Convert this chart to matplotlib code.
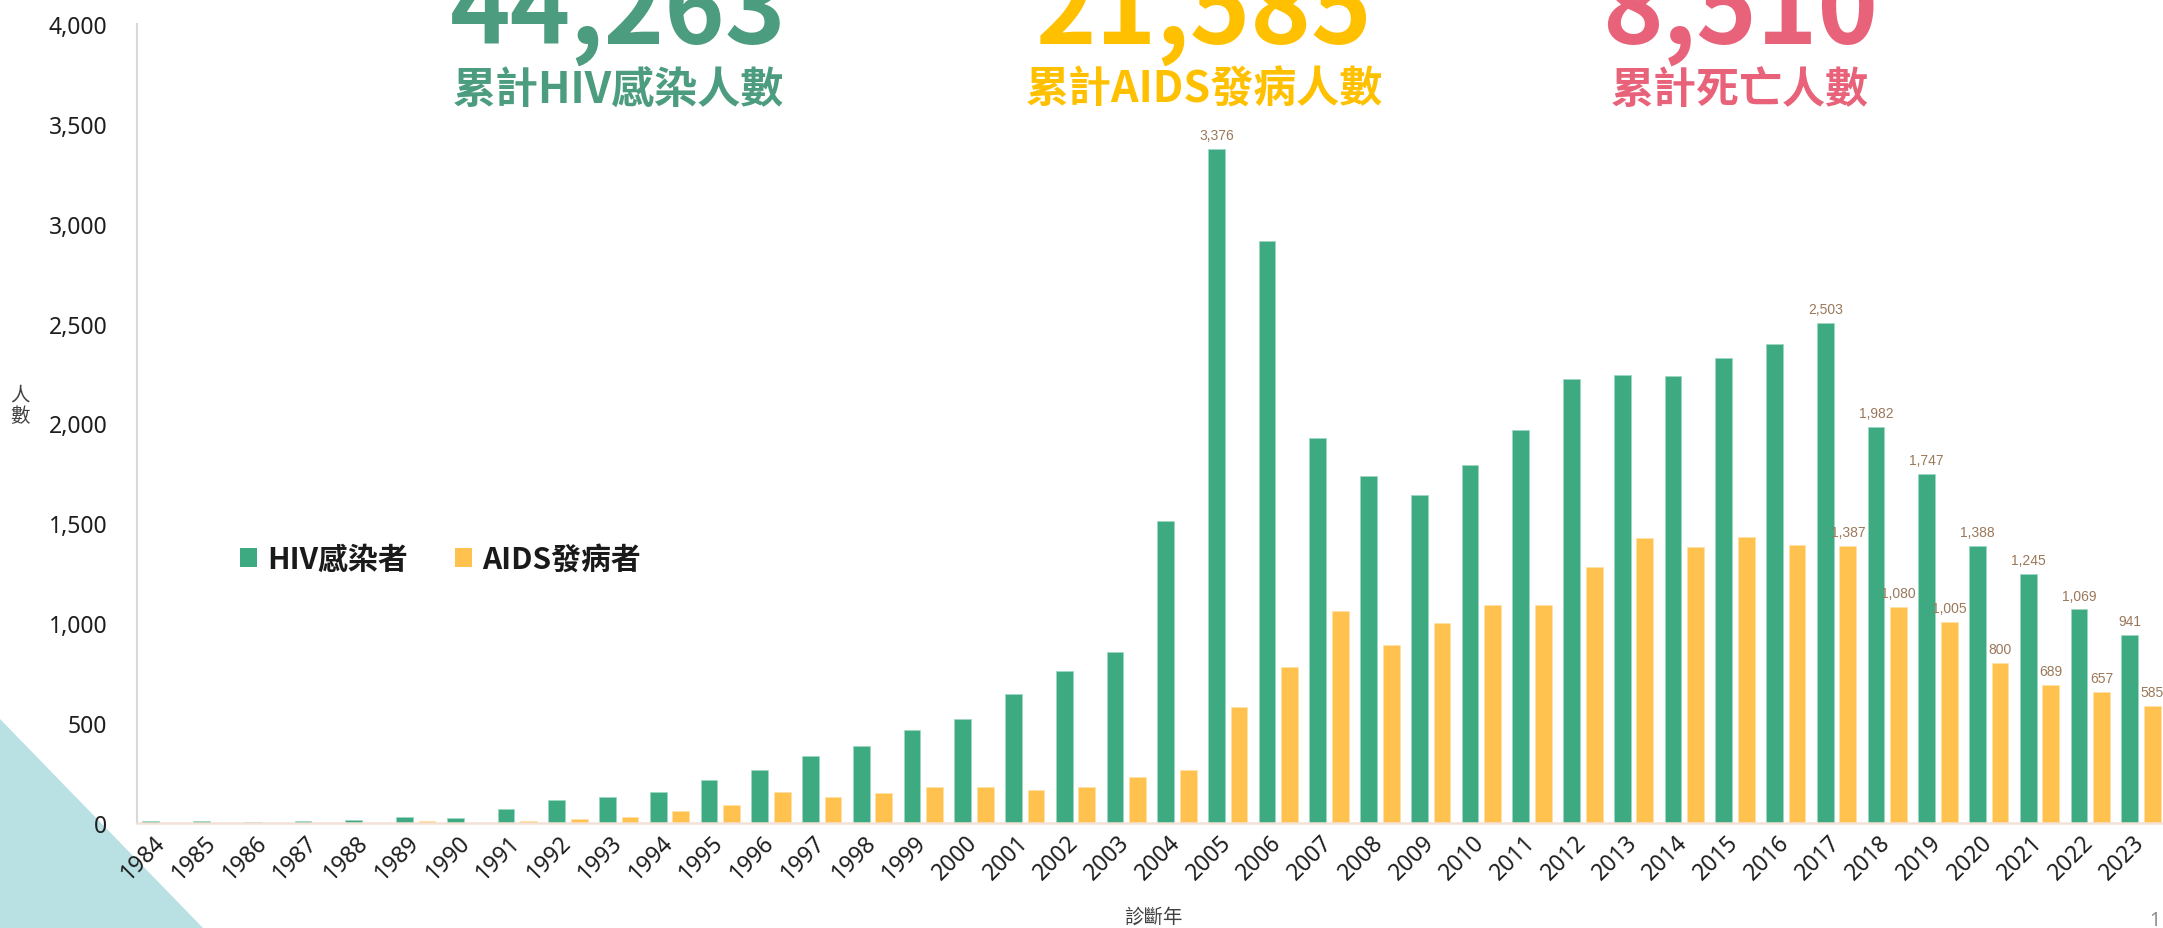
import matplotlib
matplotlib.use("Agg")
import matplotlib.pyplot as plt
import numpy as np
from matplotlib.patches import Polygon
from matplotlib.ticker import FuncFormatter, MultipleLocator

plt.rcParams['font.family'] = ['Noto Sans', 'Noto Sans CJK TC', 'DejaVu Sans']

years = [str(y) for y in range(1984, 2024)]
hiv = [8, 12, 5, 8, 17, 32, 25, 72, 114, 128, 153,
       217, 263, 335, 383, 467, 522, 648, 762, 855, 1512,
       3376, 2914, 1927, 1735, 1640, 1794, 1967, 2224, 2244, 2236,
       2327, 2396, 2503, 1982, 1747, 1388, 1245, 1069, 941]
aids = [0, 0, 0, 0, 0, 8, 0, 8, 20, 32, 60,
        92, 153, 132, 150, 178, 178, 163, 178, 232, 267,
        583, 783, 1063, 890, 1000, 1092, 1089, 1282, 1425, 1380,
        1432, 1393, 1387, 1080, 1005, 800, 689, 657, 585]
hiv_labeled = ['2005', '2017', '2018', '2019', '2020', '2021', '2022', '2023']
aids_labeled = ['2017', '2018', '2019', '2020', '2021', '2022', '2023']

series_names = ['HIV感染者', 'AIDS發病者']
totals = ['44,263', '21,585', '8,510']
total_titles = ['累計HIV感染人數', '累計AIDS發病人數', '累計死亡人數']
total_colors = ['#4c9c7f', '#ffc000', '#e8627a']

W, H = 2163, 929
fig = plt.figure(figsize=(W / 100, H / 100), dpi=100)
fig.patch.set_facecolor('white')

# decorative triangle bottom-left (behind everything)
tri = Polygon([(0, 1 - 720 / H), (203 / W, 0), (0, 0)], closed=True,
              transform=fig.transFigure, facecolor='#b9e0e3', edgecolor='none', zorder=-5)
fig.patches.append(tri)

ax = fig.add_axes([136.6 / W, 1 - 824 / H, 1 - 136.6 / W, (824 - 25) / H])
ax.set_facecolor('none')
ax.set_zorder(1)

x = np.arange(len(years))
w = 0.33
green = '#3daa82'
yellow = '#ffc24f'
b1 = ax.bar(x - 0.22, hiv, width=w, color=green, edgecolor='#9fd8c2', linewidth=0.6,
            label=series_names[0], zorder=2)
b2 = ax.bar(x + 0.225, aids, width=w, color=yellow, edgecolor='#ffe2a8', linewidth=0.6,
            label=series_names[1], zorder=2)

lab_color = '#9a785a'
for i, yr in enumerate(years):
    if yr in hiv_labeled:
        ax.annotate(f'{hiv[i]:,}', (x[i] - 0.22, hiv[i]), xytext=(0, 5), textcoords='offset points',
                    ha='center', va='bottom', fontsize=10, color=lab_color, family='Liberation Sans')
    if yr in aids_labeled:
        ax.annotate(f'{aids[i]:,}', (x[i] + 0.225, aids[i]), xytext=(0, 5), textcoords='offset points',
                    ha='center', va='bottom', fontsize=10, color=lab_color, family='Liberation Sans')

ax.set_xlim(-0.5, (W - 162) / 50.74)
ax.set_ylim(0, 4000)
ax.yaxis.set_major_locator(MultipleLocator(500))
ax.yaxis.set_major_formatter(FuncFormatter(lambda v, p: f'{int(v):,}'))
ax.set_xticks(x)
ax.set_xticklabels(years, rotation=45, ha='right', va='center', rotation_mode='anchor',
                   family='Noto Sans', fontsize=16.5, color='#1e1e1e')
ax.tick_params(axis='x', length=0, pad=11)
ax.tick_params(axis='y', length=0, pad=21, labelsize=16.5, labelcolor='#1e1e1e')

for s in ['top', 'right']:
    ax.spines[s].set_visible(False)
ax.spines['left'].set_color('#d9d9d9')
ax.spines['left'].set_linewidth(1.5)
ax.spines['bottom'].set_color('#f3e1d7')
ax.spines['bottom'].set_linewidth(1.8)

# legend
fs_leg = 21.5
leg = ax.legend(handles=[b1, b2], loc='center left', bbox_to_anchor=(240 / W, 1 - 560 / H),
                bbox_transform=fig.transFigure, ncol=2, frameon=False,
                prop={'family': ['Noto Sans CJK TC'], 'weight': 'bold', 'size': fs_leg},
                handlelength=0.57, handleheight=0.57, handletextpad=0.35, columnspacing=1.55,
                borderpad=0, borderaxespad=0)
for h in leg.legend_handles:
    h.set_edgecolor('none')
for t in leg.get_texts():
    t.set_color('#1a1a1a')

# axis titles
fig.text(1153 / W, 1 - 917 / H, '診斷年', ha='center', va='center', fontsize=14, color='#404040',
         family=['Noto Sans CJK TC'])
fig.text(20 / W, 1 - 406 / H, '人\n數', ha='center', va='center', fontsize=14, color='#404040',
         family=['Noto Sans CJK TC'], linespacing=1.05)
fig.text(2155 / W, 1 - 921 / H, '1', ha='center', va='center', fontsize=14, color='#8a8a8a')

# headline totals
centers = [618, 1204, 1740]
for cx, num, ttl, col in zip(centers, totals, total_titles, total_colors):
    fig.text(cx / W, 1 - 44 / H, num, ha='center', va='baseline', fontsize=74, color=col,
             weight='bold', family=['Noto Sans CJK TC'])
    fig.text(cx / W, 1 - 90 / H, ttl, ha='center', va='center', fontsize=31, color=col,
             weight='bold', family=['Noto Sans CJK TC'])

fig.savefig('out.png', dpi=100)
